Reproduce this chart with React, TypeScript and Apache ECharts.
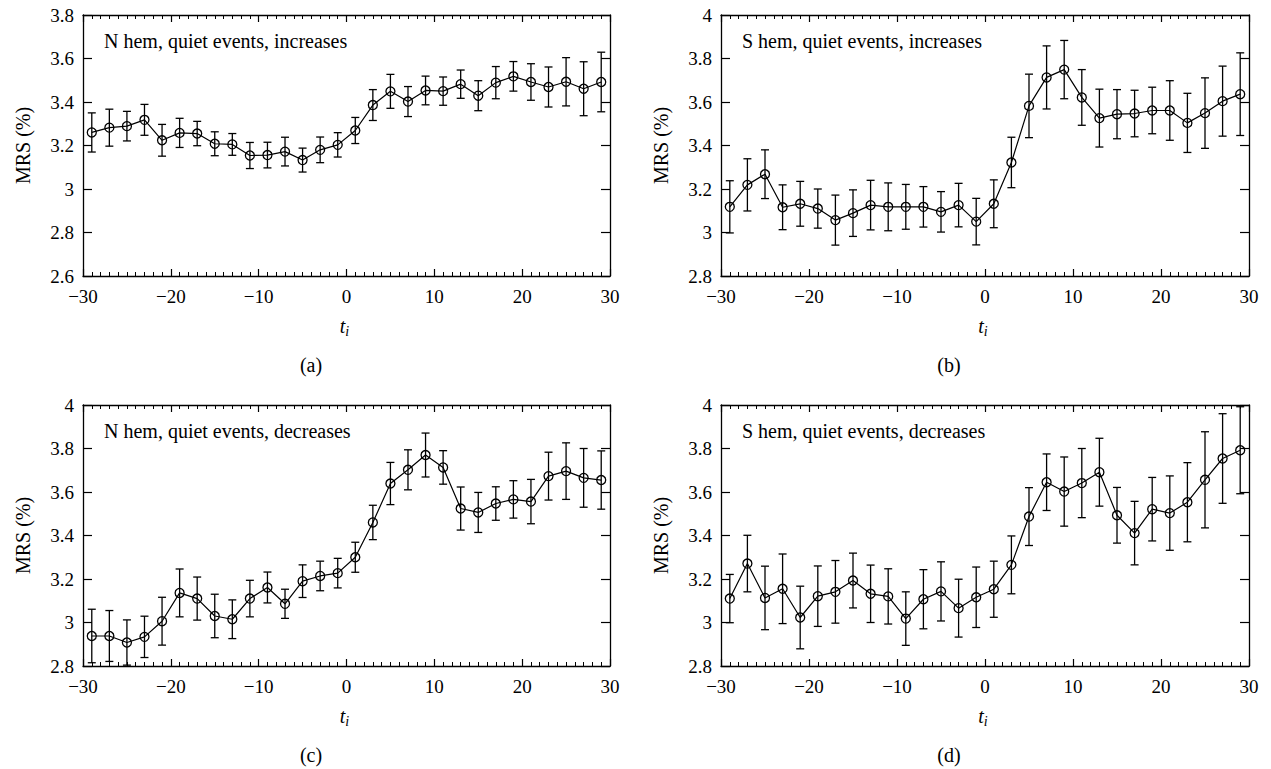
import React, { useEffect, useRef } from "react";
import * as echarts from "echarts";

const tValues = [-29, -27, -25, -23, -21, -19, -17, -15, -13, -11, -9, -7, -5, -3, -1, 1, 3, 5, 7, 9, 11, 13, 15, 17, 19, 21, 23, 25, 27, 29];

const meanA = [3.26, 3.282, 3.289, 3.318, 3.224, 3.258, 3.255, 3.208, 3.205, 3.154, 3.156, 3.172, 3.133, 3.18, 3.203, 3.269, 3.386, 3.449, 3.402, 3.453, 3.45, 3.482, 3.429, 3.489, 3.518, 3.492, 3.469, 3.493, 3.461, 3.492];
const errA = [0.09, 0.085, 0.068, 0.071, 0.073, 0.067, 0.056, 0.055, 0.05, 0.06, 0.059, 0.066, 0.055, 0.059, 0.056, 0.06, 0.071, 0.078, 0.069, 0.066, 0.065, 0.065, 0.069, 0.074, 0.068, 0.084, 0.092, 0.111, 0.124, 0.137];

const meanB = [3.118, 3.219, 3.268, 3.116, 3.132, 3.11, 3.057, 3.089, 3.126, 3.118, 3.118, 3.118, 3.095, 3.126, 3.05, 3.132, 3.322, 3.582, 3.713, 3.749, 3.621, 3.526, 3.544, 3.547, 3.561, 3.561, 3.504, 3.549, 3.604, 3.636];
const errB = [0.12, 0.12, 0.112, 0.103, 0.103, 0.09, 0.115, 0.107, 0.114, 0.11, 0.103, 0.093, 0.093, 0.1, 0.107, 0.11, 0.116, 0.146, 0.145, 0.134, 0.128, 0.133, 0.113, 0.107, 0.107, 0.137, 0.136, 0.162, 0.161, 0.19];

const meanC = [2.938, 2.938, 2.908, 2.934, 3.006, 3.136, 3.11, 3.03, 3.015, 3.11, 3.161, 3.086, 3.19, 3.214, 3.227, 3.3, 3.46, 3.639, 3.702, 3.77, 3.713, 3.524, 3.506, 3.547, 3.566, 3.556, 3.673, 3.696, 3.665, 3.655];
const errC = [0.123, 0.117, 0.104, 0.095, 0.11, 0.11, 0.099, 0.1, 0.089, 0.084, 0.071, 0.067, 0.075, 0.068, 0.068, 0.069, 0.079, 0.097, 0.092, 0.101, 0.077, 0.099, 0.092, 0.077, 0.086, 0.102, 0.11, 0.13, 0.135, 0.134];

const meanD = [3.11, 3.271, 3.113, 3.155, 3.023, 3.121, 3.141, 3.193, 3.132, 3.12, 3.018, 3.107, 3.143, 3.066, 3.116, 3.153, 3.265, 3.487, 3.645, 3.602, 3.641, 3.691, 3.493, 3.411, 3.521, 3.503, 3.553, 3.656, 3.754, 3.792];
const errD = [0.111, 0.13, 0.146, 0.16, 0.144, 0.139, 0.144, 0.126, 0.132, 0.127, 0.123, 0.136, 0.136, 0.133, 0.139, 0.129, 0.133, 0.133, 0.13, 0.159, 0.159, 0.156, 0.128, 0.146, 0.146, 0.171, 0.182, 0.221, 0.206, 0.2];

const panelTitles = [
  "N hem, quiet events, increases",
  "S hem, quiet events, increases",
  "N hem, quiet events, decreases",
  "S hem, quiet events, decreases",
];
const panelLetters = ["(a)", "(b)", "(c)", "(d)"];
const yRanges = [
  [2.6, 3.8],
  [2.8, 4.0],
  [2.8, 4.0],
  [2.8, 4.0],
];
const xMin = -30;
const xMax = 30;
const xInterval = 10;
const yInterval = 0.2;

const FONT = "Liberation Serif";

export default function App() {
  const ref = useRef<HTMLDivElement>(null);
  useEffect(() => {
    if (!ref.current) return;
    const chart = echarts.init(ref.current, undefined, { renderer: "svg" });
    const means = [meanA, meanB, meanC, meanD];
    const errs = [errA, errB, errC, errD];
    const grids = [
      { left: 83, top: 15, width: 527, height: 261 },
      { left: 721, top: 15, width: 528, height: 261 },
      { left: 83, top: 405, width: 527, height: 261 },
      { left: 721, top: 405, width: 528, height: 261 },
    ];
    const axisLine = { show: true, onZero: false, lineStyle: { color: "#000", width: 1.3 } };
    const labelRich = { f: { fontFamily: FONT, fontSize: 19, color: "#000" } };
    const xAxes: any[] = [];
    const yAxes: any[] = [];
    const series: any[] = [];
    const graphics: any[] = [];
    grids.forEach((g, i) => {
      xAxes.push({
        type: "value",
        gridIndex: i,
        min: xMin,
        max: xMax,
        interval: xInterval,
        position: "bottom",
        axisLine,
        axisTick: { show: true, inside: true, length: 7, lineStyle: { color: "#000", width: 1.2 } },
        minorTick: { show: true, splitNumber: 10, length: 4, lineStyle: { color: "#000", width: 1 } },
        splitLine: { show: false },
        axisLabel: {
          color: "#000",
          fontFamily: FONT,
          fontSize: 19,
          margin: 11,
          rich: labelRich,
          formatter: (v: number) => "{f|" + String(v).replace("-", "\u2212") + "}",
        },
      });
      xAxes.push({
        type: "value",
        gridIndex: i,
        min: xMin,
        max: xMax,
        interval: xInterval,
        position: "top",
        axisLine,
        axisTick: { show: true, inside: true, length: 7, lineStyle: { color: "#000", width: 1.2 } },
        minorTick: { show: true, splitNumber: 10, length: 4, lineStyle: { color: "#000", width: 1 } },
        splitLine: { show: false },
        axisLabel: { show: false },
      });
      yAxes.push({
        type: "value",
        gridIndex: i,
        min: yRanges[i][0],
        max: yRanges[i][1],
        interval: yInterval,
        position: "left",
        axisLine,
        axisTick: { show: true, inside: true, length: 9, lineStyle: { color: "#000", width: 1.2 } },
        splitLine: { show: false },
        axisLabel: {
          color: "#000",
          fontFamily: FONT,
          fontSize: 19,
          margin: 9,
          rich: labelRich,
          formatter: (v: number) => "{f|" + String(v) + "}",
        },
        name: "{n|MRS (%)}",
        nameLocation: "middle",
        nameGap: 50,
        nameTextStyle: {
          fontFamily: FONT,
          fontSize: 20,
          color: "#000",
          rich: { n: { fontFamily: FONT, fontSize: 20, color: "#000" } },
        },
      });
      yAxes.push({
        type: "value",
        gridIndex: i,
        min: yRanges[i][0],
        max: yRanges[i][1],
        interval: yInterval,
        position: "right",
        axisLine,
        axisTick: { show: true, inside: true, length: 9, lineStyle: { color: "#000", width: 1.2 } },
        splitLine: { show: false },
        axisLabel: { show: false },
      });
      const m = means[i];
      const e = errs[i];
      series.push({
        type: "custom",
        xAxisIndex: 2 * i,
        yAxisIndex: 2 * i,
        clip: true,
        z: 3,
        encode: { x: 0, y: [1, 2] },
        data: tValues.map((t, k) => [t, m[k] - e[k], m[k] + e[k]]),
        renderItem: (params: any, api: any) => {
          const x = api.value(0);
          const p1 = api.coord([x, api.value(2)]);
          const p2 = api.coord([x, api.value(1)]);
          const w = 4;
          const st = { stroke: "#000", lineWidth: 1.3 };
          return {
            type: "group",
            children: [
              { type: "line", shape: { x1: p1[0], y1: p1[1], x2: p2[0], y2: p2[1] }, style: st },
              { type: "line", shape: { x1: p1[0] - w, y1: p1[1], x2: p1[0] + w, y2: p1[1] }, style: st },
              { type: "line", shape: { x1: p2[0] - w, y1: p2[1], x2: p2[0] + w, y2: p2[1] }, style: st },
            ],
          };
        },
      });
      series.push({
        type: "line",
        xAxisIndex: 2 * i,
        yAxisIndex: 2 * i,
        z: 2,
        data: tValues.map((t, k) => [t, m[k]]),
        symbol: "circle",
        symbolSize: 9,
        showSymbol: true,
        lineStyle: { color: "#000", width: 1.2 },
        itemStyle: { color: "rgba(255,255,255,0)", borderColor: "#000", borderWidth: 1.3 },
      });
      graphics.push({
        type: "text",
        x: g.left + 21,
        y: g.top + 26,
        style: { text: panelTitles[i], fontFamily: FONT, fontSize: 20, fill: "#000", textVerticalAlign: "middle" },
      });
      const xZero = g.left + g.width / 2;
      graphics.push({
        type: "text",
        x: xZero - 2,
        y: g.top + g.height + 50,
        style: {
          text: "{t|t}{s|i}",
          textAlign: "center",
          textVerticalAlign: "middle",
          rich: {
            t: { fontFamily: FONT, fontStyle: "italic", fontSize: 20, fill: "#000" },
            s: { fontFamily: FONT, fontStyle: "italic", fontSize: 14, fill: "#000", padding: [10, 0, 0, 0] },
          },
        },
      });
      graphics.push({
        type: "text",
        x: g.left + 228,
        y: g.top + g.height + 89,
        style: { text: panelLetters[i], fontFamily: FONT, fontSize: 20, fill: "#000", textAlign: "center", textVerticalAlign: "middle" },
      });
    });
    chart.setOption({
      animation: false,
      backgroundColor: "#fff",
      textStyle: { fontFamily: FONT },
      grid: grids.map((g) => ({ ...g, containLabel: false })),
      xAxis: xAxes,
      yAxis: yAxes,
      series,
      graphic: graphics,
    });
    return () => chart.dispose();
  }, []);
  return <div ref={ref} style={{ position: "fixed", left: 0, top: 0, width: 1271, height: 769 }} />;
}
